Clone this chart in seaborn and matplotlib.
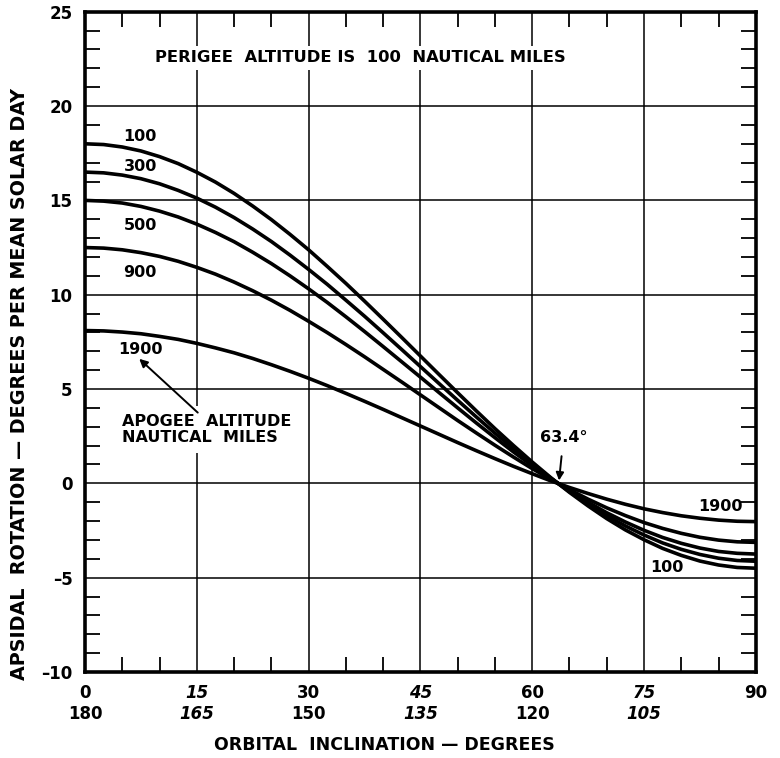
import pandas as pd
import matplotlib.pyplot as plt
import seaborn as sns
from matplotlib.ticker import MultipleLocator

# inclination (deg) and apsidal rotation (deg / mean solar day)
inclination = [0, 2.5, 5, 7.5, 10, 12.5, 15, 17.5, 20, 22.5, 25, 27.5, 30, 32.5, 35, 37.5,
               40, 42.5, 45, 47.5, 50, 52.5, 55, 57.5, 60, 62.5, 65, 67.5, 70, 72.5, 75,
               77.5, 80, 82.5, 85, 87.5, 90]
rot_100 = [18.00, 17.96, 17.83, 17.62, 17.32, 16.95, 16.49, 15.97, 15.37, 14.70, 13.98,
           13.20, 12.38, 11.50, 10.60, 9.66, 8.70, 7.73, 6.75, 5.77, 4.80, 3.84, 2.90,
           2.00, 1.13, 0.30, -0.48, -1.20, -1.87, -2.47, -2.99, -3.45, -3.82, -4.12,
           -4.33, -4.46, -4.50]
rot_300 = [16.50, 16.46, 16.34, 16.15, 15.88, 15.53, 15.12, 14.64, 14.09, 13.48, 12.82,
           12.10, 11.34, 10.55, 9.71, 8.86, 7.98, 7.09, 6.19, 5.29, 4.40, 3.52, 2.66,
           1.83, 1.03, 0.27, -0.44, -1.10, -1.71, -2.26, -2.74, -3.16, -3.50, -3.77,
           -3.97, -4.09, -4.13]
rot_500 = [15.00, 14.96, 14.86, 14.68, 14.43, 14.12, 13.74, 13.30, 12.81, 12.25, 11.65,
           11.00, 10.31, 9.59, 8.83, 8.05, 7.25, 6.44, 5.63, 4.81, 4.00, 3.20, 2.42,
           1.66, 0.94, 0.25, -0.40, -1.00, -1.56, -2.05, -2.49, -2.87, -3.18, -3.43,
           -3.61, -3.71, -3.75]
rot_900 = [12.50, 12.47, 12.38, 12.23, 12.03, 11.77, 11.45, 11.09, 10.67, 10.21, 9.71,
           9.17, 8.59, 7.99, 7.36, 6.71, 6.04, 5.37, 4.69, 4.01, 3.33, 2.67, 2.02,
           1.39, 0.78, 0.21, -0.33, -0.84, -1.30, -1.71, -2.08, -2.39, -2.65, -2.86,
           -3.01, -3.10, -3.13]
rot_1900 = [8.10, 8.08, 8.02, 7.93, 7.79, 7.63, 7.42, 7.18, 6.92, 6.62, 6.29,
            5.94, 5.57, 5.18, 4.77, 4.35, 3.92, 3.48, 3.04, 2.60, 2.16, 1.73, 1.31,
            0.90, 0.51, 0.13, -0.22, -0.54, -0.84, -1.11, -1.35, -1.55, -1.72, -1.85,
            -1.95, -2.01, -2.03]
apogees = ["100", "300", "500", "900", "1900"]
x_ticks = [0, 15, 30, 45, 60, 75, 90]
x_ticklabels = ["0\n180", "15\n165", "30\n150", "45\n135", "60\n120", "75\n105", "90"]

series = [rot_100, rot_300, rot_500, rot_900, rot_1900]
df = pd.concat([pd.DataFrame({"incl": inclination, "rot": s, "apogee": a})
                for a, s in zip(apogees, series)], ignore_index=True)

sns.set_theme(style="white")
plt.rcParams["font.family"] = ["DejaVu Sans"]
plt.rcParams.update({"text.color": "black", "axes.labelcolor": "black",
                     "xtick.color": "black", "ytick.color": "black",
                     "font.weight": "bold"})

fig = plt.figure(figsize=(7.8, 7.58), dpi=100)
ax = fig.add_axes([0.109, 0.1135, 0.86, 0.871])

sns.lineplot(data=df, x="incl", y="rot", hue="apogee", palette=["black"] * 5,
             linewidth=2.6, estimator=None, legend=False, ax=ax, zorder=3)

ax.set_xlim(0, 90)
ax.set_ylim(-10, 25)

# grid lines
for gx in x_ticks[1:-1]:
    ax.axvline(gx, color="black", lw=1.1, zorder=1)
for gy in range(-5, 25, 5):
    ax.axhline(gy, color="black", lw=1.1, zorder=1)

ax.set_xticks(x_ticks)
ax.set_xticklabels(x_ticklabels, fontsize=12, fontweight="bold")
for lab in ax.get_xticklabels():
    if lab.get_text().startswith(("15", "45", "75")):
        lab.set_style("italic")
ax.set_yticks(range(-10, 30, 5))
ax.set_yticklabels([str(v) if v >= 0 else "\u2013" + str(-v) for v in range(-10, 30, 5)],
                   fontsize=12, fontweight="bold")
ax.xaxis.set_minor_locator(MultipleLocator(5))
ax.yaxis.set_minor_locator(MultipleLocator(1))
ax.tick_params(which="major", length=0, pad=9)
ax.tick_params(which="minor", direction="in", length=11, width=1.3, color="black",
               top=True, bottom=True, left=True, right=True)
for sp in ax.spines.values():
    sp.set_linewidth(2.6)
    sp.set_color("black")

ax.set_xlabel("ORBITAL  INCLINATION \u2014 DEGREES", fontsize=12.5, fontweight="bold")
ax.set_ylabel("APSIDAL  ROTATION \u2014 DEGREES PER MEAN SOLAR DAY", fontsize=13.8,
              fontweight="bold")
ax.xaxis.set_label_coords(0.447, -0.097)
ax.yaxis.set_label_coords(-0.083, 0.436)

box = dict(facecolor="white", edgecolor="none", pad=3)
ax.text(36.9, 22.55, "PERIGEE  ALTITUDE IS  100  NAUTICAL MILES", fontsize=11.8,
        ha="center", va="center", bbox=box, zorder=4)
for lbl, yy in zip(apogees, [18.4, 16.8, 13.65, 11.2, 7.1]):
    ax.text(7.4, yy, lbl, fontsize=11.5, ha="center", va="center", zorder=4)
ax.text(5.0, 2.85, "APOGEE  ALTITUDE\nNAUTICAL  MILES", fontsize=11.5, ha="left",
        va="center", linespacing=1.1, bbox=dict(facecolor="white", edgecolor="none", pad=6),
        zorder=4)
ax.annotate("", xy=(7.0, 6.7), xytext=(15.4, 3.65),
            arrowprops=dict(arrowstyle="-|>", color="black", lw=1.4), zorder=4)
ax.annotate("63.4\u00b0", xy=(63.6, 0.15), xytext=(64.2, 2.45), fontsize=11.5,
            ha="center", va="center",
            arrowprops=dict(arrowstyle="-|>", color="black", lw=1.4, shrinkA=6, shrinkB=0),
            zorder=4)
ax.text(85.2, -1.25, "1900", fontsize=11.5, ha="center", va="center", zorder=4)
ax.text(78.0, -4.45, "100", fontsize=11.5, ha="center", va="center", zorder=4)

fig.savefig("out.png", dpi=100)
